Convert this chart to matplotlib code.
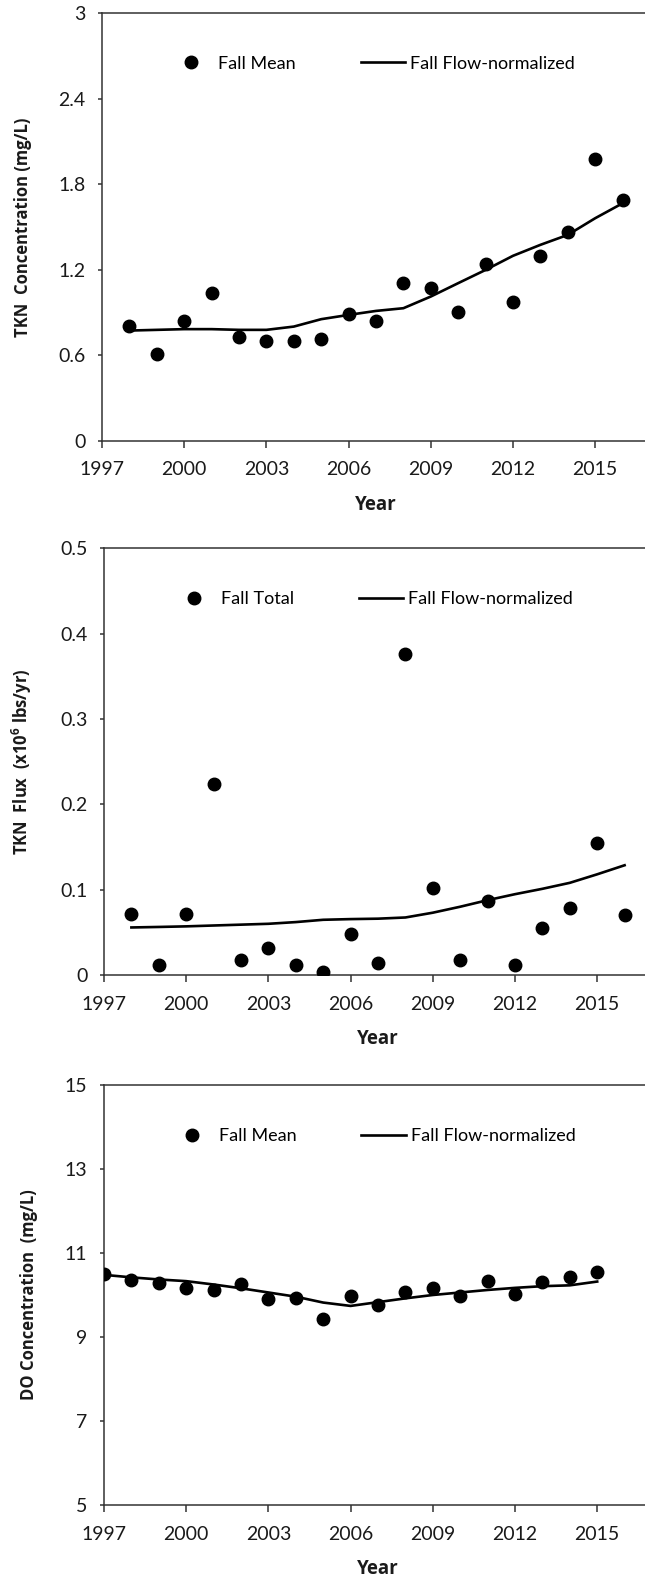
import matplotlib
matplotlib.use("Agg")
import matplotlib.pyplot as plt

plt.rcParams['font.family'] = ['Lato', 'DejaVu Sans']
plt.rcParams['mathtext.fontset'] = 'custom'
plt.rcParams['mathtext.rm'] = 'Open Sans'
plt.rcParams['mathtext.bf'] = 'Open Sans:bold'

# === Data ===
years_tkn = list(range(1998, 2017))
tkn_conc_mean = [0.805, 0.606, 0.840, 1.034, 0.725, 0.702, 0.702, 0.714, 0.889, 0.840,
                 1.105, 1.070, 0.899, 1.240, 0.971, 1.299, 1.463, 1.980, 1.687]
tkn_conc_fn = [0.772, 0.777, 0.782, 0.782, 0.777, 0.777, 0.800, 0.852, 0.882, 0.910,
               0.929, 1.011, 1.105, 1.198, 1.297, 1.374, 1.444, 1.561, 1.666]

tkn_flux_total = [0.072, 0.012, 0.072, 0.224, 0.0175, 0.032, 0.012, 0.003, 0.048, 0.0136,
                  0.376, 0.1025, 0.0175, 0.087, 0.012, 0.0546, 0.078, 0.155, 0.070]
tkn_flux_fn = [0.0557, 0.0563, 0.057, 0.058, 0.059, 0.060, 0.062, 0.0647, 0.0655, 0.066,
               0.0674, 0.073, 0.080, 0.0877, 0.0947, 0.101, 0.108, 0.118, 0.1286]

years_do = list(range(1997, 2016))
do_mean = [10.51, 10.36, 10.29, 10.16, 10.12, 10.26, 9.91, 9.92, 9.44, 9.98,
           9.76, 10.06, 10.17, 9.98, 10.34, 10.02, 10.31, 10.42, 10.55]
do_fn = [10.48, 10.42, 10.37, 10.33, 10.25, 10.16, 10.06, 9.96, 9.82, 9.74,
         9.83, 9.92, 10.00, 10.06, 10.12, 10.17, 10.21, 10.23, 10.32]

x_ticks = list(range(1997, 2016, 3))

panels = [
    dict(pos=[102 / 645, 1 - 440.5 / 1592, 548 / 645, 427.2 / 1592],
         x=years_tkn, pts=tkn_conc_mean, line=tkn_conc_fn, pts_label="Fall Mean",
         ylim=(0, 3), yticks=[0, 0.6, 1.2, 1.8, 2.4, 3],
         yticklabels=["0", "0.6", "1.2", "1.8", "2.4", "3"],
         ylabel="TKN  Concentration (mg/L)", leg=(0.122, 0.882)),
    dict(pos=[104 / 645, 1 - 975 / 1592, 548 / 645, 426.7 / 1592],
         x=years_tkn, pts=tkn_flux_total, line=tkn_flux_fn, pts_label="Fall Total",
         ylim=(0, 0.5), yticks=[0, 0.1, 0.2, 0.3, 0.4, 0.5],
         yticklabels=["0", "0.1", "0.2", "0.3", "0.4", "0.5"],
         ylabel=r"TKN  Flux  (x10$^{\mathbf{6}}$ lbs/yr)", leg=(0.124, 0.881)),
    dict(pos=[104 / 645, 1 - 1505 / 1592, 548 / 645, 420 / 1592],
         x=years_do, pts=do_mean, line=do_fn, pts_label="Fall Mean",
         ylim=(5, 15), yticks=[5, 7, 9, 11, 13, 15],
         yticklabels=["5", "7", "9", "11", "13", "15"],
         ylabel="DO Concentration  (mg/L)", leg=(0.12, 0.879)),
]

fig = plt.figure(figsize=(6.45, 15.92), dpi=100)

for p in panels:
    ax = fig.add_axes(p['pos'])
    ax.plot(p['x'], p['pts'], 'o', color='black', markersize=9, linestyle='none',
            label=p['pts_label'], zorder=3)
    ax.plot(p['x'], p['line'], '-', color='black', linewidth=1.9,
            label="Fall Flow-normalized", zorder=2)

    ax.set_xlim(1997, 2017)
    ax.set_ylim(*p['ylim'])
    ax.set_xticks(x_ticks)
    ax.set_xticklabels([str(y) for y in x_ticks])
    ax.set_yticks(p['yticks'])
    ax.set_yticklabels(p['yticklabels'])

    for s in ax.spines.values():
        s.set_color('#333333')
        s.set_linewidth(1.1)
    ax.tick_params(axis='x', direction='out', length=5, width=1.1, color='#333333',
                   pad=10, labelsize=14, labelcolor='#1a1a1a')
    ax.tick_params(axis='y', direction='out', length=3, width=1.1, color='#333333',
                   pad=9, labelsize=14, labelcolor='#1a1a1a')

    ax.set_xlabel("Year", fontsize=13.5, fontweight='bold', family='Open Sans',
                  labelpad=12, color='#1a1a1a')
    ax.set_ylabel(p['ylabel'], fontsize=12, fontweight='bold', family='Open Sans',
                  labelpad=19, color='#1a1a1a')

    ax.legend(loc='center left', bbox_to_anchor=p['leg'], ncol=2, frameon=False,
              fontsize=13, numpoints=1, handlelength=2.44, handletextpad=0.28,
              columnspacing=3.6, borderpad=0, borderaxespad=0)

plt.savefig('out.png', dpi=100)
